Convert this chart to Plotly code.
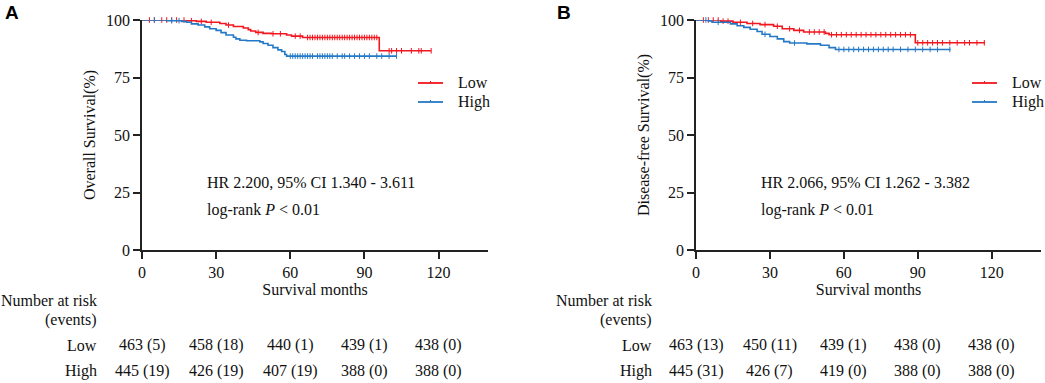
import numpy as np
import plotly.graph_objects as go

# ---------------- data ----------------
# Panel A (Overall survival): step times (months) and survival (%) after each step
A_low_t = [0, 18, 22, 26, 31.5, 34, 37, 41, 43, 44, 46, 49, 52.4, 58.5, 60.5, 65, 96, 117]
A_low_s = [100, 99.7, 99.4, 99.0, 98.5, 97.8, 97.2, 96.5, 95.8, 95.2, 94.6, 94.2, 94.0, 93.5, 93.0, 92.4, 86.6, 86.6]
A_high_t = [0, 10, 16, 18, 20, 22.7, 25.4, 27.4, 30, 32, 34, 37, 38, 39.6, 42.3, 47.7, 49, 51, 53, 55, 56.5, 57.8, 58.5, 103]
A_high_s = [100, 99.7, 99.4, 99.0, 98.3, 97.8, 97.0, 96.2, 95.5, 94.5, 93.5, 92.5, 91.8, 91.2, 91.0, 90.5, 89.8, 89.0, 88.0, 87.0, 86.3, 85.0, 84.3, 84.3]
A_low_cens = [3, 5, 8, 10, 12, 14, 17, 20, 24, 28, 35, 47, 53, 56, 62, 64, 67, 68, 69, 70, 71, 72, 73, 74,
              75, 76, 77, 78, 79, 80, 81, 82, 83, 84, 85, 86, 87, 88, 89, 90, 91, 92, 93, 94, 95,
              100, 101, 103, 105, 109, 112, 113, 117]
A_high_cens = [5, 12, 15, 60, 61, 62, 63, 64, 65, 66, 67, 68, 69, 71, 72, 73, 74, 75, 76, 77, 79, 81, 82,
               84, 86, 88, 90, 92, 95, 97, 100, 103]

# Panel B (Disease-free survival)
B_low_t = [0, 10, 15, 20.7, 26, 31.5, 35, 39.7, 43.7, 52.5, 54, 89, 117.3]
B_low_s = [100, 99.5, 99.0, 98.5, 98.0, 97.3, 96.2, 95.5, 94.8, 94.2, 93.6, 90.1, 90.1]
B_high_t = [0, 5, 6.5, 14, 16.7, 19.4, 22, 24.8, 26.8, 30, 33, 35.6, 38, 45, 50.5, 54, 56.6, 103.3]
B_high_s = [100, 99.6, 99.0, 98.3, 97.5, 96.8, 96.0, 95.0, 93.8, 92.8, 91.8, 90.6, 90.0, 89.6, 89.0, 88.0, 87.2, 87.2]
B_low_cens = [3, 5, 7, 9, 11, 13, 18, 23, 28, 33, 38, 42, 46, 48, 50, 52, 55, 57, 59, 61, 63, 65, 67, 69,
              71, 73, 75, 77, 79, 81, 83, 85, 87, 90, 92, 94, 96, 98, 100, 103, 106, 109, 111, 114, 117]
B_high_cens = [4, 9, 28, 40, 58, 60, 62, 64, 66, 68, 70, 72, 74, 76, 78, 80, 83, 86, 89, 92, 95, 98, 103]

groups = ["Low", "High"]
risk_times = [0, 30, 60, 90, 120]
A_risk_low = ["463 (5)", "458 (18)", "440 (1)", "439 (1)", "438 (0)"]
A_risk_high = ["445 (19)", "426 (19)", "407 (19)", "388 (0)", "388 (0)"]
B_risk_low = ["463 (13)", "450 (11)", "439 (1)", "438 (0)", "438 (0)"]
B_risk_high = ["445 (31)", "426 (7)", "419 (0)", "388 (0)", "388 (0)"]

A_text = ["HR 2.200, 95% CI 1.340 - 3.611", "log-rank <i>P</i> &lt; 0.01"]
B_text = ["HR 2.066, 95% CI 1.262 - 3.382", "log-rank <i>P</i> &lt; 0.01"]
y_titles = ["Overall Survival(%)", "Disease-free Survival(%)"]
x_title = "Survival months"

RED = "#F2161E"
BLUE = "#2479C6"
COLORS = [RED, BLUE]
FONT = "Liberation Serif"
AX = "#222222"


def surv_at(t_steps, s_steps, times):
    idx = np.searchsorted(np.asarray(t_steps), np.asarray(times), side="right") - 1
    return np.asarray(s_steps)[idx]


fig = go.Figure()

panels = [
    ("x", "y", [(A_low_t, A_low_s, A_low_cens), (A_high_t, A_high_s, A_high_cens)]),
    ("x2", "y2", [(B_low_t, B_low_s, B_low_cens), (B_high_t, B_high_s, B_high_cens)]),
]

for xa, ya, series in panels:
    for name, (t, s, c), col in zip(groups, series, COLORS):
        fig.add_trace(go.Scatter(x=t, y=s, mode="lines", line=dict(color=col, width=1.6, shape="hv"),
                                 name=name, xaxis=xa, yaxis=ya, showlegend=False, cliponaxis=False))
        fig.add_trace(go.Scatter(x=c, y=surv_at(t, s, c), mode="markers",
                                 marker=dict(symbol="line-ns", size=4, line=dict(color=col, width=1)),
                                 showlegend=False, xaxis=xa, yaxis=ya, cliponaxis=False, hoverinfo="skip"))

W, H = 1045, 383
xdomA = [142 / W, 488 / W]
xdomB = [696 / W, 1041 / W]
ydom = [1 - 250 / H, 1 - 20 / H]

axis_common = dict(showline=True, linecolor=AX, linewidth=1.5, ticks="outside", ticklen=7,
                   tickwidth=1.5, tickcolor=AX, showgrid=False, zeroline=False, automargin=False,
                   tickfont=dict(family=FONT, size=16, color="#111"))

fig.update_layout(
    width=W, height=H, margin=dict(l=0, r=0, t=0, b=0, autoexpand=False),
    paper_bgcolor="white", plot_bgcolor="white",
    font=dict(family=FONT, size=16, color="#111"),
    showlegend=False,
    xaxis=dict(domain=xdomA, range=[0, 140], tickvals=risk_times, anchor="y",
               title=dict(text=x_title, standoff=4, font=dict(family=FONT, size=16)), **axis_common),
    yaxis=dict(domain=ydom, range=[0, 100], tickvals=[0, 25, 50, 75, 100], anchor="x",
               title=dict(text=y_titles[0], standoff=6, font=dict(family=FONT, size=16)), **axis_common),
    xaxis2=dict(domain=xdomB, range=[0, 140], tickvals=risk_times, anchor="y2",
                title=dict(text=x_title, standoff=4, font=dict(family=FONT, size=16)), **axis_common),
    yaxis2=dict(domain=ydom, range=[0, 100], tickvals=[0, 25, 50, 75, 100], anchor="x2",
                title=dict(text=y_titles[1], standoff=6, font=dict(family=FONT, size=16)), **axis_common),
)

ann = []
shapes = []
# HR and log-rank text
for xr, yr, txt in [("x", "y", A_text), ("x2", "y2", B_text)]:
    ann.append(dict(x=25.5, y=29.3, xref=xr, yref=yr, text=txt[0], showarrow=False,
                    xanchor="left", yanchor="middle", font=dict(family=FONT, size=16)))
    ann.append(dict(x=25.5, y=17.2, xref=xr, yref=yr, text=txt[1], showarrow=False,
                    xanchor="left", yanchor="middle", font=dict(family=FONT, size=16)))

# Legends (line sample + label)
for x0 in [418, 972]:
    for g, col, yy in zip(groups, COLORS, [83, 102]):
        shapes.append(dict(type="line", xref="paper", yref="paper", x0=x0 / W, x1=(x0 + 25) / W,
                           y0=1 - yy / H, y1=1 - yy / H, line=dict(color=col, width=1.8)))
        shapes.append(dict(type="line", xref="paper", yref="paper", x0=(x0 + 12.5) / W, x1=(x0 + 12.5) / W,
                           y0=1 - yy / H, y1=1 - (yy - 2) / H, line=dict(color=col, width=1)))
        ann.append(dict(x=(x0 + 38) / W, y=1 - yy / H, xref="paper", yref="paper", text=g,
                        showarrow=False, xanchor="left", yanchor="middle", font=dict(family=FONT, size=16)))

# Risk tables
row_y = [1 - 345 / H, 1 - 371 / H]
for xr, lab_x, rows in [("x", 99 / W, [A_risk_low, A_risk_high]), ("x2", 654 / W, [B_risk_low, B_risk_high])]:
    ann.append(dict(x=lab_x, y=1 - 300 / H, xref="paper", yref="paper", text="Number at risk",
                    showarrow=False, xanchor="right", yanchor="middle", font=dict(family=FONT, size=16)))
    ann.append(dict(x=lab_x, y=1 - 320 / H, xref="paper", yref="paper", text="(events)",
                    showarrow=False, xanchor="right", yanchor="middle", font=dict(family=FONT, size=16)))
    for g, vals, yy in zip(groups, rows, row_y):
        ann.append(dict(x=lab_x, y=yy, xref="paper", yref="paper", text=g, showarrow=False,
                        xanchor="right", yanchor="middle", font=dict(family=FONT, size=16)))
        for tx, v in zip(risk_times, vals):
            ann.append(dict(x=tx, y=yy, xref=xr, yref="paper", text=v, showarrow=False,
                            xanchor="center", yanchor="middle", font=dict(family=FONT, size=16)))

# Panel letters
for lx, letter in [(3 / W, "A"), (555 / W, "B")]:
    ann.append(dict(x=lx, y=1 - 12 / H, xref="paper", yref="paper", text="<b>" + letter + "</b>",
                    showarrow=False, xanchor="left", yanchor="middle",
                    font=dict(family="Liberation Sans", size=19, color="#000")))

fig.update_layout(annotations=ann, shapes=shapes)
fig.write_html("out.html", config={"displayModeBar": False},
               post_script="document.body.style.margin='0';document.body.style.overflow='hidden';")
